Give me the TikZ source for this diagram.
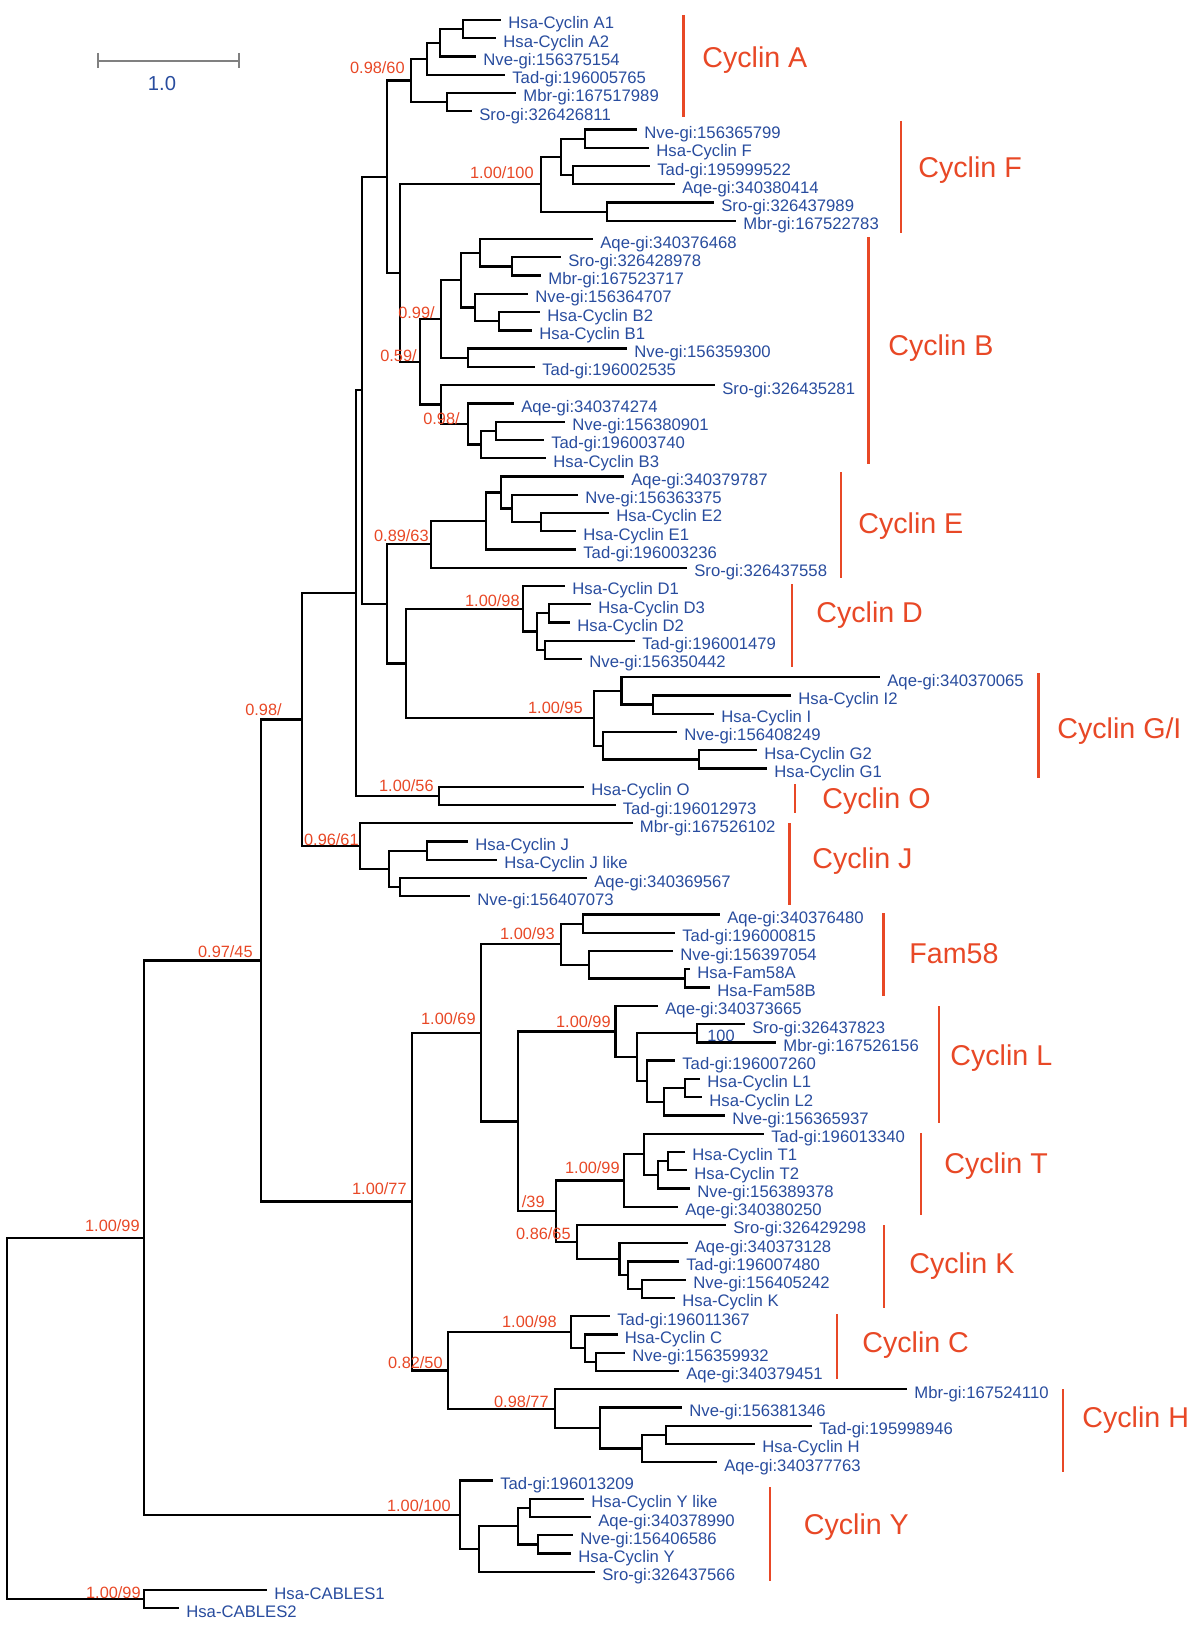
\documentclass[tikz,border=0pt]{standalone}
\usepackage{fontspec}
\setmainfont{Liberation Sans}
\usetikzlibrary{calc}

\definecolor{supred}{RGB}{232,72,38}
\definecolor{taxblue}{RGB}{40,76,158}
\definecolor{bargray}{RGB}{128,128,128}

\tikzset{
  branch/.style={line width=1.3pt, black},
  leaf/.style={anchor=west, inner sep=0pt, text height=6.8pt, text depth=0pt, xshift=0.14cm, yshift=-0.06cm, text=taxblue, font=\fontsize{9.5pt}{10pt}\selectfont},
  support/.style={anchor=east, inner sep=0pt, text height=6.66pt, text depth=0pt, text=supred, font=\fontsize{9.3pt}{10pt}\selectfont},
  clade/.style={anchor=west, inner sep=0pt, text height=11.67pt, text depth=0pt, text=supred, font=\fontsize{16.3pt}{18pt}\selectfont},
  cladebar/.style={supred, line width=1.3pt},
}

\begin{document}
\begin{tikzpicture}[x=0.02cm, y=-0.02cm]

    \useasboundingbox (0,0) rectangle (1200,1639);

    %scale bar
    \draw[bargray, line width=1.3pt] (98,61) -- (239,61);
    \draw[bargray, line width=1.3pt] (98,53) -- (98,68) (239,53) -- (239,68);
    \node (scl) at (162,84) [text=taxblue, font=\fontsize{11.5pt}{12pt}\selectfont] {1.0};

    \begin{scope}[y=-0.3652cm, yshift=-0.4cm]

      %cyclin A
      \coordinate (a1) at (501,0);
      \coordinate (a2) at (496,1);
      \coordinate (a3) at (476,2);
      \coordinate (a4) at (505,3);
      \coordinate (a5) at (516,4);
      \coordinate (a6) at (472,5);
      \coordinate (nA1) at (463,0.5);
      \coordinate (nA2) at (440,1.25);
      \coordinate (nA3) at (427,2.125);
      \coordinate (nA4) at (447,4.5);
      \coordinate (nA) at (411,3.3125);
      \node (a1l) at (a1) [leaf] {Hsa-Cyclin A1};
      \node (a2l) at (a2) [leaf] {Hsa-Cyclin A2};
      \node (a3l) at (a3) [leaf] {Nve-gi:156375154};
      \node (a4l) at (a4) [leaf] {Tad-gi:196005765};
      \node (a5l) at (a5) [leaf] {Mbr-gi:167517989};
      \node (a6l) at (a6) [leaf] {Sro-gi:326426811};
      \draw[branch] (nA1) |- (a1) (nA1) |- (a2) (nA2) |- (nA1) (nA2) |- (a3)
        (nA3) |- (nA2) (nA3) |- (a4) (nA4) |- (a5) (nA4) |- (a6)
        (nA) |- (nA3) (nA) |- (nA4);

      %cyclin F
      \coordinate (f1) at (637,6);
      \coordinate (f2) at (649,7);
      \coordinate (f3) at (650,8);
      \coordinate (f4) at (675,9);
      \coordinate (f5) at (714,10);
      \coordinate (f6) at (736,11);
      \coordinate (nF1) at (585,6.5);
      \coordinate (nF2) at (573,8.5);
      \coordinate (nF3) at (561,7.5);
      \coordinate (nF4) at (607,10.5);
      \coordinate (nF) at (541,9);
      \node (f1l) at (f1) [leaf] {Nve-gi:156365799};
      \node (f2l) at (f2) [leaf] {Hsa-Cyclin F};
      \node (f3l) at (f3) [leaf] {Tad-gi:195999522};
      \node (f4l) at (f4) [leaf] {Aqe-gi:340380414};
      \node (f5l) at (f5) [leaf] {Sro-gi:326437989};
      \node (f6l) at (f6) [leaf] {Mbr-gi:167522783};
      \draw[branch] (nF1) |- (f1) (nF1) |- (f2) (nF2) |- (f3) (nF2) |- (f4)
        (nF3) |- (nF1) (nF3) |- (nF2) (nF4) |- (f5) (nF4) |- (f6)
        (nF) |- (nF3) (nF) |- (nF4);

      %cyclin B
      \coordinate (b1) at (593,12);
      \coordinate (b2) at (561,13);
      \coordinate (b3) at (541,14);
      \coordinate (b4) at (528,15);
      \coordinate (b5) at (540,16);
      \coordinate (b6) at (532,17);
      \coordinate (b7) at (627,18);
      \coordinate (b8) at (535,19);
      \coordinate (b9) at (715,20);
      \coordinate (b10) at (514,21);
      \coordinate (b11) at (565,22);
      \coordinate (b12) at (544,23);
      \coordinate (b13) at (546,24);
      \coordinate (nB1) at (512,13.5);
      \coordinate (nB2) at (480,12.75);
      \coordinate (nB3) at (499,16.5);
      \coordinate (nB4) at (475,15.75);
      \coordinate (nB5) at (461,14.25);
      \coordinate (nB6) at (468,18.5);
      \coordinate (nB7) at (441,16.375);
      \coordinate (nB8) at (496,22.5);
      \coordinate (nB9) at (481,23.25);
      \coordinate (nB10) at (468,22.125);
      \coordinate (nB11) at (441,21.0625);
      \coordinate (nB) at (420,18.71875);
      \node (b1l) at (b1) [leaf] {Aqe-gi:340376468};
      \node (b2l) at (b2) [leaf] {Sro-gi:326428978};
      \node (b3l) at (b3) [leaf] {Mbr-gi:167523717};
      \node (b4l) at (b4) [leaf] {Nve-gi:156364707};
      \node (b5l) at (b5) [leaf] {Hsa-Cyclin B2};
      \node (b6l) at (b6) [leaf] {Hsa-Cyclin B1};
      \node (b7l) at (b7) [leaf] {Nve-gi:156359300};
      \node (b8l) at (b8) [leaf] {Tad-gi:196002535};
      \node (b9l) at (b9) [leaf] {Sro-gi:326435281};
      \node (b10l) at (b10) [leaf] {Aqe-gi:340374274};
      \node (b11l) at (b11) [leaf] {Nve-gi:156380901};
      \node (b12l) at (b12) [leaf] {Tad-gi:196003740};
      \node (b13l) at (b13) [leaf] {Hsa-Cyclin B3};
      \draw[branch] (nB1) |- (b2) (nB1) |- (b3) (nB2) |- (b1) (nB2) |- (nB1)
        (nB3) |- (b5) (nB3) |- (b6) (nB4) |- (b4) (nB4) |- (nB3)
        (nB5) |- (nB2) (nB5) |- (nB4) (nB6) |- (b7) (nB6) |- (b8)
        (nB7) |- (nB5) (nB7) |- (nB6)
        (nB8) |- (b11) (nB8) |- (b12) (nB9) |- (nB8) (nB9) |- (b13)
        (nB10) |- (b10) (nB10) |- (nB9) (nB11) |- (b9) (nB11) |- (nB10)
        (nB) |- (nB7) (nB) |- (nB11);

      %cyclin E
      \coordinate (e1) at (624,25);
      \coordinate (e2) at (578,26);
      \coordinate (e3) at (609,27);
      \coordinate (e4) at (576,28);
      \coordinate (e5) at (576,29);
      \coordinate (e6) at (687,30);
      \coordinate (nE1) at (541,27.5);
      \coordinate (nE2) at (512,26.75);
      \coordinate (nE3) at (501,25.875);
      \coordinate (nE4) at (486,27.4375);
      \coordinate (nE) at (431,28.71875);
      \node (e1l) at (e1) [leaf] {Aqe-gi:340379787};
      \node (e2l) at (e2) [leaf] {Nve-gi:156363375};
      \node (e3l) at (e3) [leaf] {Hsa-Cyclin E2};
      \node (e4l) at (e4) [leaf] {Hsa-Cyclin E1};
      \node (e5l) at (e5) [leaf] {Tad-gi:196003236};
      \node (e6l) at (e6) [leaf] {Sro-gi:326437558};
      \draw[branch] (nE1) |- (e3) (nE1) |- (e4) (nE2) |- (e2) (nE2) |- (nE1)
        (nE3) |- (e1) (nE3) |- (nE2) (nE4) |- (nE3) (nE4) |- (e5)
        (nE) |- (nE4) (nE) |- (e6);

      %cyclin D
      \coordinate (d1) at (565,31);
      \coordinate (d2) at (591,32);
      \coordinate (d3) at (570,33);
      \coordinate (d4) at (635,34);
      \coordinate (d5) at (582,35);
      \coordinate (nD1) at (549,32.5);
      \coordinate (nD2) at (545,34.5);
      \coordinate (nD3) at (537,33.5);
      \coordinate (nD) at (523,32.25);
      \node (d1l) at (d1) [leaf] {Hsa-Cyclin D1};
      \node (d2l) at (d2) [leaf] {Hsa-Cyclin D3};
      \node (d3l) at (d3) [leaf] {Hsa-Cyclin D2};
      \node (d4l) at (d4) [leaf] {Tad-gi:196001479};
      \node (d5l) at (d5) [leaf] {Nve-gi:156350442};
      \draw[branch] (nD1) |- (d2) (nD1) |- (d3) (nD2) |- (d4) (nD2) |- (d5)
        (nD3) |- (nD1) (nD3) |- (nD2) (nD) |- (d1) (nD) |- (nD3);

      %cyclin G/I
      \coordinate (g1) at (880,36);
      \coordinate (g2) at (791,37);
      \coordinate (g3) at (714,38);
      \coordinate (g4) at (677,39);
      \coordinate (g5) at (757,40);
      \coordinate (g6) at (767,41);
      \coordinate (nG1) at (653,37.5);
      \coordinate (nG2) at (621.5,36.75);
      \coordinate (nG3) at (699,40.5);
      \coordinate (nG4) at (603,39.75);
      \coordinate (nG) at (594,38.25);
      \node (g1l) at (g1) [leaf] {Aqe-gi:340370065};
      \node (g2l) at (g2) [leaf] {Hsa-Cyclin I2};
      \node (g3l) at (g3) [leaf] {Hsa-Cyclin I};
      \node (g4l) at (g4) [leaf] {Nve-gi:156408249};
      \node (g5l) at (g5) [leaf] {Hsa-Cyclin G2};
      \node (g6l) at (g6) [leaf] {Hsa-Cyclin G1};
      \draw[branch] (nG1) |- (g2) (nG1) |- (g3) (nG2) |- (g1) (nG2) |- (nG1)
        (nG3) |- (g5) (nG3) |- (g6) (nG4) |- (g4) (nG4) |- (nG3)
        (nG) |- (nG2) (nG) |- (nG4);

      %cyclin O
      \coordinate (o1) at (584,42);
      \coordinate (o2) at (615.5,43);
      \coordinate (nO) at (439,42.5);
      \node (o1l) at (o1) [leaf] {Hsa-Cyclin O};
      \node (o2l) at (o2) [leaf] {Tad-gi:196012973};
      \draw[branch] (nO) |- (o1) (nO) |- (o2);

      %cyclin J
      \coordinate (j1) at (632.6,44);
      \coordinate (j2) at (468,45);
      \coordinate (j3) at (497,46);
      \coordinate (j4) at (587,47);
      \coordinate (j5) at (470,48);
      \coordinate (nJ1) at (427,45.5);
      \coordinate (nJ2) at (400,47.5);
      \coordinate (nJ3) at (389,46.5);
      \coordinate (nJ) at (360,45.25);
      \node (j1l) at (j1) [leaf] {Mbr-gi:167526102};
      \node (j2l) at (j2) [leaf] {Hsa-Cyclin J};
      \node (j3l) at (j3) [leaf] {Hsa-Cyclin J like};
      \node (j4l) at (j4) [leaf] {Aqe-gi:340369567};
      \node (j5l) at (j5) [leaf] {Nve-gi:156407073};
      \draw[branch] (nJ1) |- (j2) (nJ1) |- (j3) (nJ2) |- (j4) (nJ2) |- (j5)
        (nJ3) |- (nJ1) (nJ3) |- (nJ2) (nJ) |- (j1) (nJ) |- (nJ3);

      %upper backbone
      \coordinate (nQ) at (400,13.859375);
      \coordinate (nP1) at (387,8.5859);
      \coordinate (nDG) at (406,35.25);
      \coordinate (nDE) at (387,31.984375);
      \coordinate (nU) at (362,20.2852);
      \coordinate (nV) at (356,31.3926);
      \coordinate (nW) at (302,38.3213);
      \draw[branch] (nQ) |- (nF) (nQ) |- (nB) (nP1) |- (nA) (nP1) |- (nQ)
        (nDG) |- (nD) (nDG) |- (nG) (nDE) |- (nE) (nDE) |- (nDG)
        (nU) |- (nP1) (nU) |- (nDE) (nV) |- (nU) (nV) |- (nO)
        (nW) |- (nV) (nW) |- (nJ);

      %fam58
      \coordinate (m1) at (720,49);
      \coordinate (m2) at (675,50);
      \coordinate (m3) at (673,51);
      \coordinate (m4) at (690,52);
      \coordinate (m5) at (710,53);
      \coordinate (nM1) at (583,49.5);
      \coordinate (nM2) at (685,52.5);
      \coordinate (nM3) at (589,51.75);
      \coordinate (nM) at (561,50.625);
      \node (m1l) at (m1) [leaf] {Aqe-gi:340376480};
      \node (m2l) at (m2) [leaf] {Tad-gi:196000815};
      \node (m3l) at (m3) [leaf] {Nve-gi:156397054};
      \node (m4l) at (m4) [leaf] {Hsa-Fam58A};
      \node (m5l) at (m5) [leaf] {Hsa-Fam58B};
      \draw[branch] (nM1) |- (m1) (nM1) |- (m2) (nM2) |- (m4) (nM2) |- (m5)
        (nM3) |- (m3) (nM3) |- (nM2) (nM) |- (nM1) (nM) |- (nM3);

      %cyclin L
      \coordinate (l1) at (658,54);
      \coordinate (l2) at (745,55);
      \coordinate (l3) at (776,56);
      \coordinate (l4) at (675,57);
      \coordinate (l5) at (700,58);
      \coordinate (l6) at (702,59);
      \coordinate (l7) at (725,60);
      \coordinate (nL1) at (697,55.5);
      \coordinate (nL2) at (685,58.5);
      \coordinate (nL3) at (664,59.25);
      \coordinate (nL4) at (647,58.125);
      \coordinate (nL5) at (637,56.8125);
      \coordinate (nL) at (615.6,55.40625);
      \node (l1l) at (l1) [leaf] {Aqe-gi:340373665};
      \node (l2l) at (l2) [leaf] {Sro-gi:326437823};
      \node (l3l) at (l3) [leaf] {Mbr-gi:167526156};
      \node (l4l) at (l4) [leaf] {Tad-gi:196007260};
      \node (l5l) at (l5) [leaf] {Hsa-Cyclin L1};
      \node (l6l) at (l6) [leaf] {Hsa-Cyclin L2};
      \node (l7l) at (l7) [leaf] {Nve-gi:156365937};
      \draw[branch] (nL1) |- (l2) (nL1) |- (l3) (nL2) |- (l5) (nL2) |- (l6)
        (nL3) |- (nL2) (nL3) |- (l7) (nL4) |- (l4) (nL4) |- (nL3)
        (nL5) |- (nL1) (nL5) |- (nL4) (nL) |- (l1) (nL) |- (nL5);

      %cyclin T
      \coordinate (t1) at (764,61);
      \coordinate (t2) at (685,62);
      \coordinate (t3) at (687,63);
      \coordinate (t4) at (690,64);
      \coordinate (t5) at (678,65);
      \coordinate (nT1) at (668,62.5);
      \coordinate (nT2) at (658,63.25);
      \coordinate (nT3) at (644,62.125);
      \coordinate (nT) at (624,63.5625);
      \node (t1l) at (t1) [leaf] {Tad-gi:196013340};
      \node (t2l) at (t2) [leaf] {Hsa-Cyclin T1};
      \node (t3l) at (t3) [leaf] {Hsa-Cyclin T2};
      \node (t4l) at (t4) [leaf] {Nve-gi:156389378};
      \node (t5l) at (t5) [leaf] {Aqe-gi:340380250};
      \draw[branch] (nT1) |- (t2) (nT1) |- (t3) (nT2) |- (nT1) (nT2) |- (t4)
        (nT3) |- (t1) (nT3) |- (nT2) (nT) |- (nT3) (nT) |- (t5);

      %cyclin K
      \coordinate (k1) at (726,66);
      \coordinate (k2) at (687.5,67);
      \coordinate (k3) at (679,68);
      \coordinate (k4) at (686,69);
      \coordinate (k5) at (675,70);
      \coordinate (nK1) at (642,69.5);
      \coordinate (nK2) at (628,68.75);
      \coordinate (nK3) at (619.5,67.875);
      \coordinate (nK) at (577,66.9375);
      \node (k1l) at (k1) [leaf] {Sro-gi:326429298};
      \node (k2l) at (k2) [leaf] {Aqe-gi:340373128};
      \node (k3l) at (k3) [leaf] {Tad-gi:196007480};
      \node (k4l) at (k4) [leaf] {Nve-gi:156405242};
      \node (k5l) at (k5) [leaf] {Hsa-Cyclin K};
      \draw[branch] (nK1) |- (k4) (nK1) |- (k5) (nK2) |- (k3) (nK2) |- (nK1)
        (nK3) |- (k2) (nK3) |- (nK2) (nK) |- (k1) (nK) |- (nK3);

      %cyclin C
      \coordinate (c1) at (610,71);
      \coordinate (c2) at (617.5,72);
      \coordinate (c3) at (625,73);
      \coordinate (c4) at (679,74);
      \coordinate (nC1) at (596,73.5);
      \coordinate (nC2) at (585,72.75);
      \coordinate (nC) at (571,71.875);
      \node (c1l) at (c1) [leaf] {Tad-gi:196011367};
      \node (c2l) at (c2) [leaf] {Hsa-Cyclin C};
      \node (c3l) at (c3) [leaf] {Nve-gi:156359932};
      \node (c4l) at (c4) [leaf] {Aqe-gi:340379451};
      \draw[branch] (nC1) |- (c3) (nC1) |- (c4) (nC2) |- (c2) (nC2) |- (nC1)
        (nC) |- (c1) (nC) |- (nC2);

      %cyclin H
      \coordinate (h1) at (907,75);
      \coordinate (h2) at (682,76);
      \coordinate (h3) at (812,77);
      \coordinate (h4) at (755,78);
      \coordinate (h5) at (717,79);
      \coordinate (nH1) at (666,77.5);
      \coordinate (nH2) at (642,78.25);
      \coordinate (nH3) at (600,77.125);
      \coordinate (nH) at (555,76.0625);
      \node (h1l) at (h1) [leaf] {Mbr-gi:167524110};
      \node (h2l) at (h2) [leaf] {Nve-gi:156381346};
      \node (h3l) at (h3) [leaf] {Tad-gi:195998946};
      \node (h4l) at (h4) [leaf] {Hsa-Cyclin H};
      \node (h5l) at (h5) [leaf] {Aqe-gi:340377763};
      \draw[branch] (nH1) |- (h3) (nH1) |- (h4) (nH2) |- (nH1) (nH2) |- (h5)
        (nH3) |- (h2) (nH3) |- (nH2) (nH) |- (h1) (nH) |- (nH3);

      %lower backbone
      \coordinate (nTK) at (556,65.25);
      \coordinate (nLTK) at (518,60.328125);
      \coordinate (nFL) at (481,55.4766);
      \coordinate (nCH) at (448,73.96875);
      \coordinate (nX) at (412,64.7227);
      \coordinate (nZ) at (261,51.522);
      \draw[branch] (nTK) |- (nT) (nTK) |- (nK) (nLTK) |- (nL) (nLTK) |- (nTK)
        (nFL) |- (nM) (nFL) |- (nLTK) (nCH) |- (nC) (nCH) |- (nH)
        (nX) |- (nFL) (nX) |- (nCH) (nZ) |- (nW) (nZ) |- (nX);

      %cyclin Y
      \coordinate (y1) at (493,80);
      \coordinate (y2) at (584,81);
      \coordinate (y3) at (591,82);
      \coordinate (y4) at (573,83);
      \coordinate (y5) at (571,84);
      \coordinate (y6) at (595,85);
      \coordinate (nY1) at (530,81.5);
      \coordinate (nY2) at (538,83.5);
      \coordinate (nY3) at (518,82.5);
      \coordinate (nY4) at (479,83.75);
      \coordinate (nY) at (460,81.875);
      \node (y1l) at (y1) [leaf] {Tad-gi:196013209};
      \node (y2l) at (y2) [leaf] {Hsa-Cyclin Y like};
      \node (y3l) at (y3) [leaf] {Aqe-gi:340378990};
      \node (y4l) at (y4) [leaf] {Nve-gi:156406586};
      \node (y5l) at (y5) [leaf] {Hsa-Cyclin Y};
      \node (y6l) at (y6) [leaf] {Sro-gi:326437566};
      \draw[branch] (nY1) |- (y2) (nY1) |- (y3) (nY2) |- (y4) (nY2) |- (y5)
        (nY3) |- (nY1) (nY3) |- (nY2) (nY4) |- (nY3) (nY4) |- (y6)
        (nY) |- (y1) (nY) |- (nY4);

      %cables and root
      \coordinate (z1) at (267,86);
      \coordinate (z2) at (179,87);
      \coordinate (nCab) at (144,86.5);
      \coordinate (nR) at (144,66.6985);
      \coordinate (root) at (7,76.599);
      \node (z1l) at (z1) [leaf] {Hsa-CABLES1};
      \node (z2l) at (z2) [leaf] {Hsa-CABLES2};
      \draw[branch] (nCab) |- (z1) (nCab) |- (z2) (nR) |- (nZ) (nR) |- (nY)
        (root) |- (nR) (root) |- (nCab);

    \end{scope}

    %support values
    \node (sA) at (405,68) [support] {0.98/60};
    \node (sF) at (534,173) [support] {1.00/100};
    \node (sB1) at (435,313) [support] {0.99/};
    \node (sB) at (417,356) [support] {0.59/};
    \node (sB2) at (460,419) [support] {0.98/};
    \node (sE) at (429,536) [support] {0.89/63};
    \node (sD) at (520,601) [support] {1.00/98};
    \node (sG) at (583,708) [support] {1.00/95};
    \node (sW) at (282,710) [support] {0.98/};
    \node (sO) at (434,786) [support] {1.00/56};
    \node (sJ) at (359,840) [support] {0.96/61};
    \node (sM) at (555,934) [support] {1.00/93};
    \node (sZ) at (253,952) [support] {0.97/45};
    \node (sFL) at (476,1019) [support] {1.00/69};
    \node (sL) at (611,1022) [support] {1.00/99};
    \node (sL1) at (707,1036) [support, anchor=west, text=taxblue] {100};
    \node (sT) at (620,1168) [support] {1.00/99};
    \node (sX) at (407,1189) [support] {1.00/77};
    \node (sTK) at (545,1202) [support] {/39};
    \node (sR) at (140,1226) [support] {1.00/99};
    \node (sK) at (571,1234) [support] {0.86/65};
    \node (sC) at (557,1322) [support] {1.00/98};
    \node (sCH) at (443,1363) [support] {0.82/50};
    \node (sH) at (549,1402) [support] {0.98/77};
    \node (sY) at (451,1506) [support] {1.00/100};
    \node (sCab) at (141,1593) [support] {1.00/99};

    %clade bars
    \draw[cladebar] (683.6,15) -- (683.6,117);
    \draw[cladebar] (901,121) -- (901,233);
    \draw[cladebar] (868.5,237) -- (868.5,464);
    \draw[cladebar] (841,472) -- (841,578);
    \draw[cladebar] (792,584) -- (792,667);
    \draw[cladebar] (1038.5,673) -- (1038.5,778);
    \draw[cladebar] (795,784) -- (795,813);
    \draw[cladebar] (789.5,823) -- (789.5,905);
    \draw[cladebar] (883.6,913) -- (883.6,996);
    \draw[cladebar] (939,1006) -- (939,1123);
    \draw[cladebar] (921,1133) -- (921,1215);
    \draw[cladebar] (884,1225) -- (884,1308);
    \draw[cladebar] (837,1314) -- (837,1379);
    \draw[cladebar] (1063,1389) -- (1063,1472);
    \draw[cladebar] (770,1487) -- (770,1581);

    %clade names
    \node (cA) at (702,57) [clade] {Cyclin A};
    \node (cF) at (918,167) [clade] {Cyclin F};
    \node (cB) at (888,345) [clade] {Cyclin B};
    \node (cE) at (858,523) [clade] {Cyclin E};
    \node (cD) at (816,612) [clade] {Cyclin D};
    \node (cGI) at (1057,728) [clade] {Cyclin G/I};
    \node (cO) at (822,798) [clade] {Cyclin O};
    \node (cJ) at (812,858) [clade] {Cyclin J};
    \node (cM) at (909,953) [clade] {Fam58};
    \node (cL) at (950,1055) [clade] {Cyclin L};
    \node (cT) at (944,1163) [clade] {Cyclin T};
    \node (cK) at (909,1263) [clade] {Cyclin K};
    \node (cC) at (862,1342) [clade] {Cyclin C};
    \node (cH) at (1082,1417) [clade] {Cyclin H};
    \node (cY) at (803.5,1524) [clade] {Cyclin Y};

\end{tikzpicture}
\end{document}
